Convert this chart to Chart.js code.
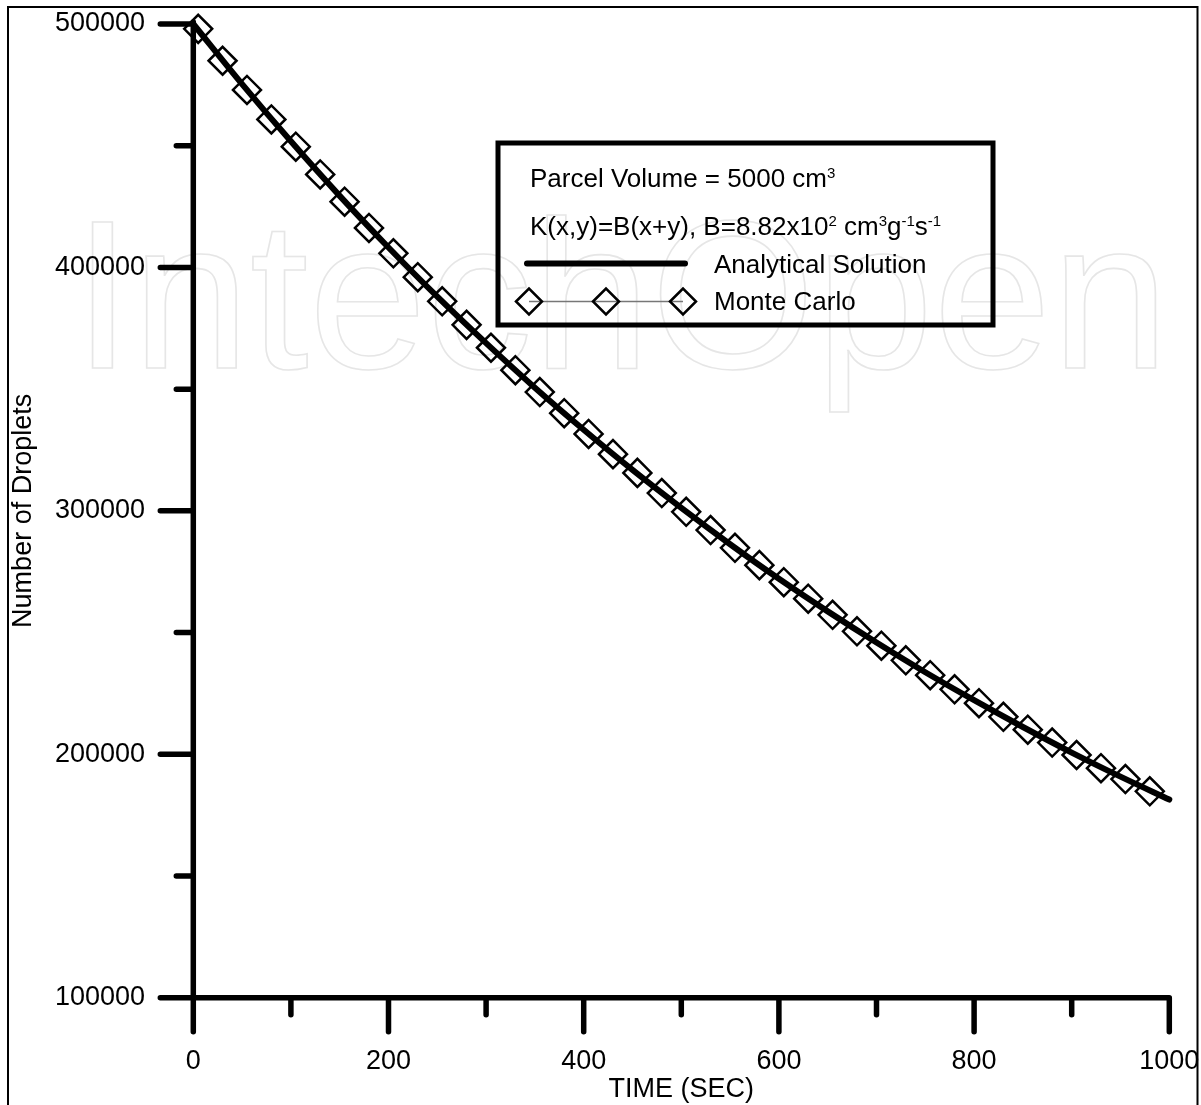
<!DOCTYPE html>
<html>
<head>
<meta charset="utf-8">
<script src="https://cdn.jsdelivr.net/npm/chart.js@4.4.1/dist/chart.umd.min.js"></script>
<style>
  html, body { margin: 0; padding: 0; background: #fff; overflow: hidden; }
  #grafico { display: block; }
</style>
</head>
<body>
<canvas id="grafico" width="1201" height="1105"></canvas>
<script>
// valores
const tempoAnalitico = [0, 50, 100, 150, 200, 250, 300, 350, 400, 450, 500,
    550, 600, 650, 700, 750, 800, 850, 900, 950, 1000];
const gotasAnalitico = [500000, 475300, 451800, 429400, 408200, 388000, 368900, 350600, 333300, 316800, 301200,
    286300, 272100, 258700, 245900, 233700, 222200, 211200, 200700, 190800, 181400];

const tempoMonteCarlo = [5, 30, 55, 80, 105, 130, 155, 180, 205, 230,
    255, 280, 305, 330, 355, 380, 405, 430, 455, 480,
    505, 530, 555, 580, 605, 630, 655, 680, 705, 730,
    755, 780, 805, 830, 855, 880, 905, 930, 955, 980];
const gotasMonteCarlo = [498000, 484900, 472900, 460800, 449600, 438200, 427000, 416200, 405800, 396000,
    386100, 376400, 367000, 357800, 348800, 340100, 331600, 323300, 315600, 307300,
    299600, 292100, 284800, 277700, 270700, 263900, 257300, 250500, 244600, 238600,
    232500, 226700, 221000, 215400, 210100, 204800, 199700, 194300, 189800, 184800];

const ticksXMaiores = [0, 200, 400, 600, 800, 1000];
const ticksXMenores = [100, 300, 500, 700, 900];
const ticksYMaiores = [100000, 200000, 300000, 400000, 500000];
const ticksYMenores = [150000, 250000, 350000, 450000];

const FONTE = "'Liberation Sans', Arial, sans-serif";

// fundo, moldura e marca d'agua
const pluginFundo = {
    id: 'fundo',
    beforeDraw(chart) {
        const ctx = chart.ctx;
        ctx.save();
        ctx.fillStyle = '#fff';
        ctx.fillRect(0, 0, chart.width, chart.height);

        ctx.font = '212px ' + FONTE;
        ctx.strokeStyle = '#e6e6e6';
        ctx.lineWidth = 1.6;
        ctx.textBaseline = 'alphabetic';
        ctx.strokeText('IntechOpen', 73, 368);

        ctx.strokeStyle = '#000';
        ctx.lineWidth = 2;
        ctx.beginPath();
        ctx.moveTo(8, 1110);
        ctx.lineTo(8, 7);
        ctx.lineTo(1197.5, 7);
        ctx.lineTo(1197.5, 1110);
        ctx.stroke();
        ctx.restore();
    }
};

// eixos com ticks maiores e menores
const pluginEixos = {
    id: 'eixos',
    beforeDatasetsDraw(chart) {
        const ctx = chart.ctx;
        const sx = chart.scales.x;
        const sy = chart.scales.y;
        const x0 = sx.getPixelForValue(0);
        const y0 = sy.getPixelForValue(100000);
        ctx.save();
        ctx.strokeStyle = '#000';
        ctx.lineWidth = 5.5;
        ctx.lineCap = 'round';
        ctx.beginPath();
        ctx.moveTo(x0, sy.getPixelForValue(500000) - 2);
        ctx.lineTo(x0, y0);
        ctx.moveTo(x0, y0);
        ctx.lineTo(sx.getPixelForValue(1000), y0);
        ticksXMaiores.forEach(v => {
            const px = sx.getPixelForValue(v);
            ctx.moveTo(px, y0);
            ctx.lineTo(px, y0 + 34);
        });
        ticksXMenores.forEach(v => {
            const px = sx.getPixelForValue(v);
            ctx.moveTo(px, y0);
            ctx.lineTo(px, y0 + 17);
        });
        ticksYMaiores.forEach(v => {
            const py = sy.getPixelForValue(v);
            ctx.moveTo(x0, py);
            ctx.lineTo(x0 - 33, py);
        });
        ticksYMenores.forEach(v => {
            const py = sy.getPixelForValue(v);
            ctx.moveTo(x0, py);
            ctx.lineTo(x0 - 17, py);
        });
        ctx.stroke();
        ctx.restore();
    }
};

function textoComSobrescrito(ctx, partes, x, y) {
    let cx = x;
    partes.forEach(p => {
        if (p.sup) {
            ctx.font = '15px ' + FONTE;
            ctx.fillText(p.t, cx, y - 9.5);
        } else {
            ctx.font = '26px ' + FONTE;
            ctx.fillText(p.t, cx, y);
        }
        cx += ctx.measureText(p.t).width;
    });
}

// caixa de legenda
const pluginLegenda = {
    id: 'legendaCaixa',
    afterDraw(chart) {
        const ctx = chart.ctx;
        ctx.save();
        ctx.strokeStyle = '#000';
        ctx.lineWidth = 5;
        ctx.strokeRect(498, 143, 495, 182);

        ctx.fillStyle = '#000';
        ctx.textBaseline = 'alphabetic';
        ctx.textAlign = 'left';
        textoComSobrescrito(ctx, [
            { t: 'Parcel Volume = 5000 cm' }, { t: '3', sup: true }
        ], 530, 187);
        textoComSobrescrito(ctx, [
            { t: 'K(x,y)=B(x+y), B=8.82x10' }, { t: '2', sup: true },
            { t: ' cm' }, { t: '3', sup: true }, { t: 'g' }, { t: '-1', sup: true },
            { t: 's' }, { t: '-1', sup: true }
        ], 530, 235);

        ctx.font = '26px ' + FONTE;
        ctx.fillText('Analytical Solution', 714, 273);
        ctx.fillText('Monte Carlo', 714, 310);

        ctx.lineCap = 'round';
        ctx.lineWidth = 6;
        ctx.beginPath();
        ctx.moveTo(527, 263.5);
        ctx.lineTo(685, 263.5);
        ctx.stroke();

        ctx.lineCap = 'butt';
        ctx.strokeStyle = '#777';
        ctx.lineWidth = 1.7;
        ctx.beginPath();
        ctx.moveTo(529, 301.5);
        ctx.lineTo(683, 301.5);
        ctx.stroke();

        ctx.strokeStyle = '#000';
        ctx.lineWidth = 2.5;
        [529, 606, 683].forEach(cx => {
            ctx.beginPath();
            ctx.moveTo(cx - 13, 301.5);
            ctx.lineTo(cx, 288.5);
            ctx.lineTo(cx + 13, 301.5);
            ctx.lineTo(cx, 314.5);
            ctx.closePath();
            ctx.stroke();
        });
        ctx.restore();
    }
};

function semPadding(s) {
    s.paddingTop = 0;
    s.paddingBottom = 0;
    s.paddingLeft = 0;
    s.paddingRight = 0;
}

const ctx = document.getElementById('grafico').getContext('2d');

new Chart(ctx, {
    type: 'line',
    data: {
        datasets: [
            {
                label: 'Monte Carlo',
                data: tempoMonteCarlo.map((t, i) => ({ x: t, y: gotasMonteCarlo[i] })),
                showLine: false,
                pointStyle: 'rectRot',
                pointRadius: 14,
                pointBorderWidth: 2.5,
                pointBorderColor: '#000',
                pointBackgroundColor: 'rgba(0,0,0,0)',
                clip: false
            },
            {
                label: 'Analytical Solution',
                data: tempoAnalitico.map((t, i) => ({ x: t, y: gotasAnalitico[i] })),
                borderColor: '#000',
                borderWidth: 6,
                borderCapStyle: 'round',
                cubicInterpolationMode: 'monotone',
                pointRadius: 0,
                clip: false
            }
        ]
    },
    options: {
        responsive: false,
        animation: false,
        devicePixelRatio: 1,
        layout: { padding: { left: 0, top: 24, right: 31.7, bottom: 0 } },
        plugins: { legend: { display: false }, tooltip: { enabled: false } },
        scales: {
            x: {
                type: 'linear',
                min: 0,
                max: 1000,
                afterBuildTicks: s => { s.ticks = ticksXMaiores.map(v => ({ value: v })); },
                afterFit: s => { s.height = 107.3; semPadding(s); },
                grid: { display: false, drawTicks: false },
                border: { display: false },
                ticks: {
                    padding: 48,
                    color: '#000',
                    font: { family: FONTE, size: 27 },
                    maxRotation: 0,
                    callback: v => String(v)
                },
                title: {
                    display: true,
                    text: 'TIME (SEC)',
                    color: '#000',
                    font: { family: FONTE, size: 27, lineHeight: 1 },
                    padding: { top: 0, bottom: 1.5 }
                }
            },
            y: {
                type: 'linear',
                min: 100000,
                max: 500000,
                afterBuildTicks: s => { s.ticks = ticksYMaiores.map(v => ({ value: v })); },
                afterFit: s => { s.width = 193.3; semPadding(s); },
                grid: { display: false, drawTicks: false },
                border: { display: false },
                ticks: {
                    padding: 48.3,
                    color: '#000',
                    font: { family: FONTE, size: 27 },
                    callback: v => String(v)
                },
                title: {
                    display: true,
                    text: 'Number of Droplets',
                    color: '#000',
                    font: { family: FONTE, size: 27, lineHeight: 1 },
                    padding: { top: 10.3, bottom: 0 }
                }
            }
        }
    },
    plugins: [pluginFundo, pluginEixos, pluginLegenda]
});
</script>
</body>
</html>
